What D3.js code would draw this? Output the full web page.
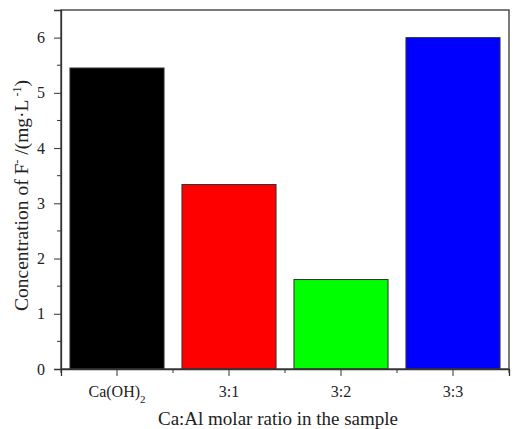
<!DOCTYPE html>
<html>
<head>
<meta charset="utf-8">
<script src="https://cdn.jsdelivr.net/npm/d3@7"></script>
<style>
  body { margin: 0; background: #fff; }
  svg text { font-family: "Liberation Serif", "Times New Roman", serif; fill: #222; }
</style>
</head>
<body>
<svg id="chart" width="516" height="429"></svg>
<script>
// chart data
const categories = ["Ca(OH)2", "3:1", "3:2", "3:3"];
const values = [5.45, 3.34, 1.62, 6.0];
const colors = ["#000000", "#ff0000", "#00ff00", "#0000ff"];
const yTicks = [0, 1, 2, 3, 4, 5, 6];

const margin = { top: 10, right: 7, bottom: 60, left: 61 };
const width = 516 - margin.left - margin.right;
const height = 429 - margin.top - margin.bottom;

const svg = d3.select("#chart")
  .append("g")
  .attr("transform", "translate(" + margin.left + "," + margin.top + ")");

const x = d3.scaleBand().domain(categories).range([0, width]).paddingInner(0.16).paddingOuter(0.08);
const xOuter = d3.scaleBand().domain(categories).range([0, width]);
const y = d3.scaleLinear().domain([0, 6.5]).range([height, 0]);

// bars
svg.selectAll(".bar")
  .data(values)
  .enter().append("rect")
  .attr("class", "bar")
  .attr("x", (d, i) => x(categories[i]))
  .attr("y", d => y(d))
  .attr("width", x.bandwidth())
  .attr("height", d => height - y(d))
  .attr("fill", (d, i) => colors[i])
  .attr("stroke", "#333")
  .attr("stroke-width", 1);

// frame
svg.append("rect")
  .attr("width", width).attr("height", height)
  .attr("fill", "none").attr("stroke", "#333").attr("stroke-width", 1.3);

// y axis
const yAxis = d3.axisLeft(y).tickValues(yTicks).tickSize(7).tickPadding(9).tickFormat(d3.format("d"));
const gy = svg.append("g").call(yAxis)
  .attr("font-family", "Liberation Serif").attr("font-size", 16);
gy.select(".domain").attr("stroke", "#333").attr("stroke-width", 1.3);
gy.selectAll(".tick line").attr("stroke", "#333");
gy.selectAll(".tick text").attr("fill", "#222");
// minor y ticks
svg.selectAll(".ymin")
  .data(d3.range(0.5, 6.5, 1))
  .enter().append("line")
  .attr("x1", -4).attr("x2", 0)
  .attr("y1", d => y(d)).attr("y2", d => y(d))
  .attr("stroke", "#333");

// x axis
const xAxis = d3.axisBottom(xOuter).tickSize(7).tickPadding(6).tickFormat("");
const gx = svg.append("g").attr("transform", "translate(0," + height + ")").call(xAxis);
gx.select(".domain").attr("stroke", "#333").attr("stroke-width", 1.3);
gx.selectAll(".tick line").attr("stroke", "#333");
// minor x ticks at band edges
svg.selectAll(".xmin")
  .data(categories.concat(["end"]))
  .enter().append("line")
  .attr("x1", (d, i) => i * xOuter.step()).attr("x2", (d, i) => i * xOuter.step())
  .attr("y1", height).attr("y2", height + 4)
  .attr("stroke", "#333");

// x tick labels
const labels = svg.selectAll(".xlab")
  .data(categories)
  .enter().append("text")
  .attr("x", d => xOuter(d) + xOuter.bandwidth() / 2)
  .attr("y", height + 28)
  .attr("text-anchor", "middle")
  .attr("font-size", 16);
labels.each(function(d) {
  const t = d3.select(this);
  if (d === "Ca(OH)2") {
    t.append("tspan").text("Ca(OH)");
    t.append("tspan").attr("baseline-shift", "sub").attr("font-size", 11).text("2");
  } else {
    t.text(d);
  }
});

// axis titles
svg.append("text")
  .attr("x", width / 2 - 7)
  .attr("y", height + 56)
  .attr("text-anchor", "middle")
  .attr("font-size", 19)
  .text("Ca:Al molar ratio in the sample");

const yt = svg.append("text")
  .attr("transform", "translate(" + (-33) + "," + (height / 2 + 6) + ") rotate(-90)")
  .attr("text-anchor", "middle")
  .attr("font-size", 19.5);
yt.append("tspan").text("Concentration of F");
yt.append("tspan").attr("baseline-shift", "super").attr("font-size", 12).text("-");
yt.append("tspan").text(" /(mg·L");
yt.append("tspan").attr("baseline-shift", "super").attr("font-size", 12).text(" -1");
yt.append("tspan").text(")");
</script>
</body>
</html>
